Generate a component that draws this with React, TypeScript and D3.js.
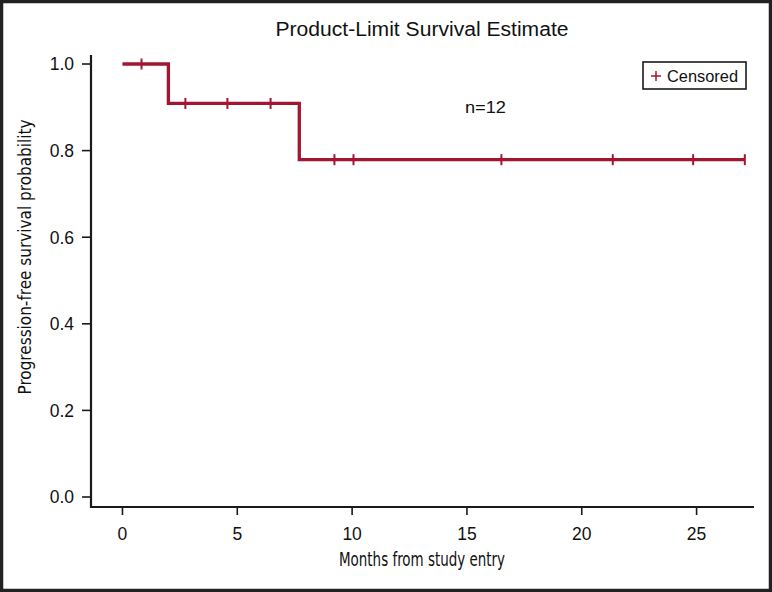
import React from "react";
import * as d3 from "d3";

const xTicks = [0, 5, 10, 15, 20, 25];
const yTicks = [0.0, 0.2, 0.4, 0.6, 0.8, 1.0];
const stepTimes = [0, 2.0, 7.7];
const stepSurvival = [1.0, 0.909, 0.779];
const curveEnd = 27.1;
const censorTimes = [0.83, 2.74, 4.57, 6.45, 9.23, 10.06, 16.5, 21.35, 24.85, 27.1];
const censorSurvival = [1.0, 0.909, 0.909, 0.909, 0.779, 0.779, 0.779, 0.779, 0.779, 0.779];

const W = 772;
const H = 592;
const RED = "#A3162F";
const AX = "#1a1a1a";
const SANS = "'Liberation Sans', Arial, Helvetica, sans-serif";
const NARROW = "'Liberation Sans Narrow', 'Arial Narrow', 'DejaVu Sans Condensed', sans-serif";

export default function App() {
  const x = d3.scaleLinear().domain([-1.37, 27.5]).range([91, 754]);
  const y = d3.scaleLinear().domain([-0.0231, 1.0208]).range([507, 55]);

  const pts: [number, number][] = stepTimes.map((t, i) => [t, stepSurvival[i]]);
  pts.push([curveEnd, stepSurvival[stepSurvival.length - 1]]);
  const line = d3
    .line<[number, number]>()
    .x((d) => x(d[0]))
    .y((d) => y(d[1]))
    .curve(d3.curveStepAfter);

  const [x0, x1] = x.range();
  const [yb, yt] = y.range();

  return (
    <svg
      width={W}
      height={H}
      style={{ position: "absolute", left: 0, top: 0, background: "#fff" }}
    >
      <rect x={0} y={0} width={W} height={H} fill="#fff" />
      <rect x={1.5} y={1.5} width={W - 3} height={H - 3} fill="none" stroke="#222" strokeWidth={3.5} />

      <text
        x={422}
        y={36}
        textAnchor="middle"
        fontFamily={SANS}
        fontSize={20}
        textLength={293}
        lengthAdjust="spacingAndGlyphs"
        fill="#111"
      >
        Product-Limit Survival Estimate
      </text>

      {/* y axis */}
      <line x1={x0} x2={x0} y1={yt} y2={yb + 1} stroke={AX} strokeWidth={2.2} />
      {yTicks.map((t) => (
        <g key={"y" + t}>
          <line x1={x0 - 9} x2={x0} y1={y(t)} y2={y(t)} stroke={AX} strokeWidth={1.6} />
          <text
            x={74}
            y={y(t)}
            dy="0.36em"
            textAnchor="end"
            fontFamily={SANS}
            fontSize={17.5}
            fill="#111"
          >
            {t.toFixed(1)}
          </text>
        </g>
      ))}

      {/* x axis */}
      <line x1={x0 - 1} x2={x1} y1={yb} y2={yb} stroke={AX} strokeWidth={2.2} />
      {xTicks.map((t) => (
        <g key={"x" + t}>
          <line x1={x(t)} x2={x(t)} y1={yb} y2={yb + 8} stroke={AX} strokeWidth={1.6} />
          <text x={x(t)} y={540} textAnchor="middle" fontFamily={SANS} fontSize={17.5} fill="#111">
            {t}
          </text>
        </g>
      ))}

      <text
        x={422}
        y={566}
        textAnchor="middle"
        fontFamily={NARROW}
        fontSize={19.5}
        textLength={166}
        lengthAdjust="spacingAndGlyphs"
        fill="#111"
      >
        Months from study entry
      </text>
      <text
        transform="translate(31,257) rotate(-90)"
        textAnchor="middle"
        fontFamily={NARROW}
        fontSize={18.5}
        textLength={275}
        lengthAdjust="spacingAndGlyphs"
        fill="#111"
      >
        Progression-free survival probability
      </text>

      {/* survival curve */}
      <path d={line(pts) || ""} fill="none" stroke={RED} strokeWidth={3.3} />
      {censorTimes.map((t, i) => (
        <line
          key={"c" + i}
          x1={x(t)}
          x2={x(t)}
          y1={y(censorSurvival[i]) - 5.5}
          y2={y(censorSurvival[i]) + 5.5}
          stroke={RED}
          strokeWidth={2}
        />
      ))}

      <text
        x={485.5}
        y={113}
        textAnchor="middle"
        fontFamily={SANS}
        fontSize={17}
        textLength={41}
        lengthAdjust="spacingAndGlyphs"
        fill="#111"
      >
        n=12
      </text>

      {/* legend */}
      <rect x={643} y={62} width={103} height={27} fill="#fff" stroke={AX} strokeWidth={1.6} />
      <line x1={651} x2={661} y1={76} y2={76} stroke={RED} strokeWidth={1.5} />
      <line x1={656} x2={656} y1={71} y2={81} stroke={RED} strokeWidth={1.5} />
      <text
        x={667}
        y={81.5}
        fontFamily={SANS}
        fontSize={17}
        textLength={71}
        lengthAdjust="spacingAndGlyphs"
        fill="#111"
      >
        Censored
      </text>
    </svg>
  );
}
